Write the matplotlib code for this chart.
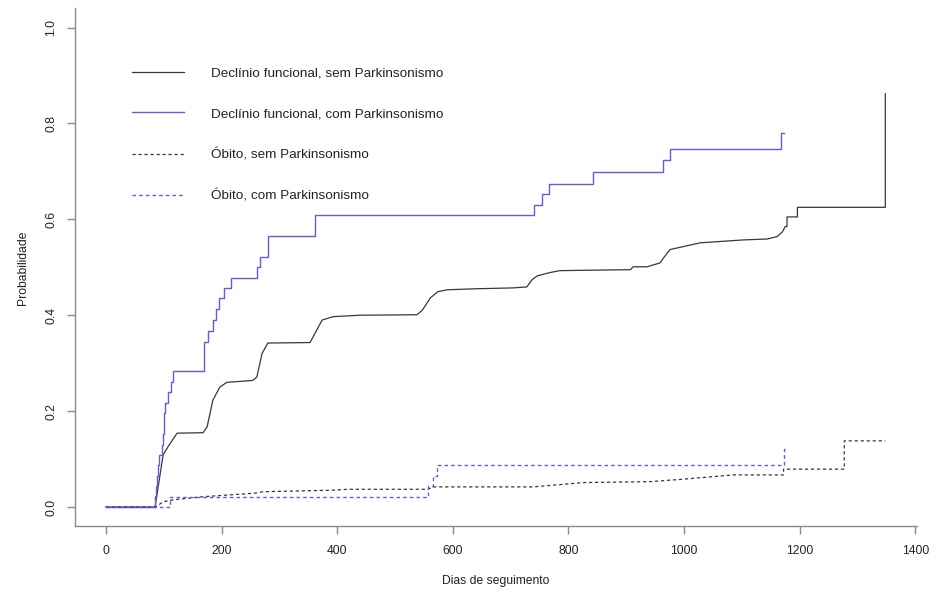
import matplotlib
matplotlib.use("Agg")
import matplotlib.pyplot as plt

plt.rcParams["font.family"] = ["Liberation Sans", "DejaVu Sans"]

# --- curves (days, cumulative probability) ---
# Declínio funcional, sem Parkinsonismo
dec_sem_t = [0, 85, 99, 107, 123, 168, 175, 185, 197, 209, 254, 261, 270, 280, 353, 365, 374, 393,
             439, 538, 547, 561, 574, 590, 635, 704, 728, 737, 746, 768, 785, 907, 912, 936, 958,
             971, 976, 1028, 1102, 1144, 1161, 1170, 1175, 1178, 1178, 1196, 1196, 1348, 1348]
dec_sem_y = [0, 0, 0.109, 0.125, 0.154, 0.155, 0.167, 0.223, 0.25, 0.26, 0.264, 0.271, 0.32, 0.342,
             0.343, 0.37, 0.39, 0.397, 0.40, 0.401, 0.41, 0.436, 0.449, 0.453, 0.455, 0.457, 0.459,
             0.474, 0.482, 0.489, 0.493, 0.495, 0.501, 0.501, 0.509, 0.53, 0.537, 0.551, 0.557,
             0.559, 0.564, 0.574, 0.585, 0.585, 0.605, 0.605, 0.625, 0.625, 0.862]

# Declínio funcional, com Parkinsonismo (step function)
dec_com_t = [0, 85, 87, 89, 90, 92, 97, 99, 100, 101, 102, 107, 112, 116, 170, 176, 185, 191, 196,
             204, 217, 261, 266, 281, 362, 740, 755, 766, 843, 964, 976, 1167, 1173]
dec_com_y = [0, 0.022, 0.043, 0.065, 0.087, 0.109, 0.130, 0.152, 0.174, 0.196, 0.217, 0.239, 0.261,
             0.283, 0.345, 0.367, 0.391, 0.413, 0.435, 0.457, 0.478, 0.500, 0.522, 0.565, 0.609,
             0.630, 0.652, 0.674, 0.698, 0.723, 0.747, 0.780, 0.780]

# Óbito, sem Parkinsonismo
obi_sem_t = [0, 85, 92, 99, 116, 168, 258, 272, 388, 420, 557, 566, 739, 825, 941, 998, 1085, 1172,
             1172, 1277, 1277, 1348]
obi_sem_y = [0, 0, 0.005, 0.011, 0.015, 0.0215, 0.029, 0.032, 0.035, 0.037, 0.037, 0.042, 0.042,
             0.051, 0.053, 0.058, 0.067, 0.067, 0.079, 0.079, 0.138, 0.138]

# Óbito, com Parkinsonismo (step function)
obi_com_t = [0, 111, 557, 566, 573, 1172, 1175]
obi_com_y = [0, 0.0217, 0.0435, 0.065, 0.087, 0.122, 0.122]

labels = ["Declínio funcional, sem Parkinsonismo", "Declínio funcional, com Parkinsonismo",
          "Óbito, sem Parkinsonismo", "Óbito, com Parkinsonismo"]
x_ticks = [0, 200, 400, 600, 800, 1000, 1200, 1400]
y_ticks = [0.0, 0.2, 0.4, 0.6, 0.8, 1.0]

BLACK, BLUE, AXC = "#383838", "#5e5ede", "#8a8a8a"
FS = 8.7
LEG_FS = 9.7
DASH = (2.6, 2.2)

fig = plt.figure(figsize=(9.36, 5.95), dpi=100)
ax = fig.add_axes([0.0798, 0.1156, 0.8994, 0.8704])

ax.plot(dec_sem_t, dec_sem_y, color=BLACK, lw=0.9, label=labels[0])
ax.step(dec_com_t, dec_com_y, where="post", color=BLUE, lw=1.0, label=labels[1])
ax.plot(obi_sem_t, obi_sem_y, color=BLACK, lw=0.9, dashes=DASH, label=labels[2])
ax.step(obi_com_t, obi_com_y, where="post", color=BLUE, lw=1.0, dashes=DASH, label=labels[3])

ax.set_xlim(-54, 1402)
ax.set_ylim(-0.04, 1.04)
ax.set_xticks(x_ticks)
ax.set_yticks(y_ticks)
ax.set_xticklabels([str(v) for v in x_ticks])
ax.set_yticklabels([f"{v:.1f}" for v in y_ticks], rotation=90, va="center")

for s in ["top", "right"]:
    ax.spines[s].set_visible(False)
for s in ["left", "bottom"]:
    ax.spines[s].set_color(AXC)
    ax.spines[s].set_linewidth(1.0)
ax.tick_params(axis="both", colors=AXC, labelcolor="#222222", labelsize=FS, length=5.5, width=1.0)
ax.tick_params(axis="x", pad=8)
ax.tick_params(axis="y", pad=7)

ax.set_xlabel("Dias de seguimento", fontsize=FS, color="#222222", labelpad=13)
ax.set_ylabel("Probabilidade", fontsize=FS, color="#222222", labelpad=12)

leg = ax.legend(loc="upper left", bbox_to_anchor=(0.0605, 0.900), frameon=False, fontsize=LEG_FS,
                handlelength=3.83, handletextpad=2.03, labelspacing=2.1, borderpad=0)
for t in leg.get_texts():
    t.set_color("#222222")

fig.savefig("out.png", dpi=100)
